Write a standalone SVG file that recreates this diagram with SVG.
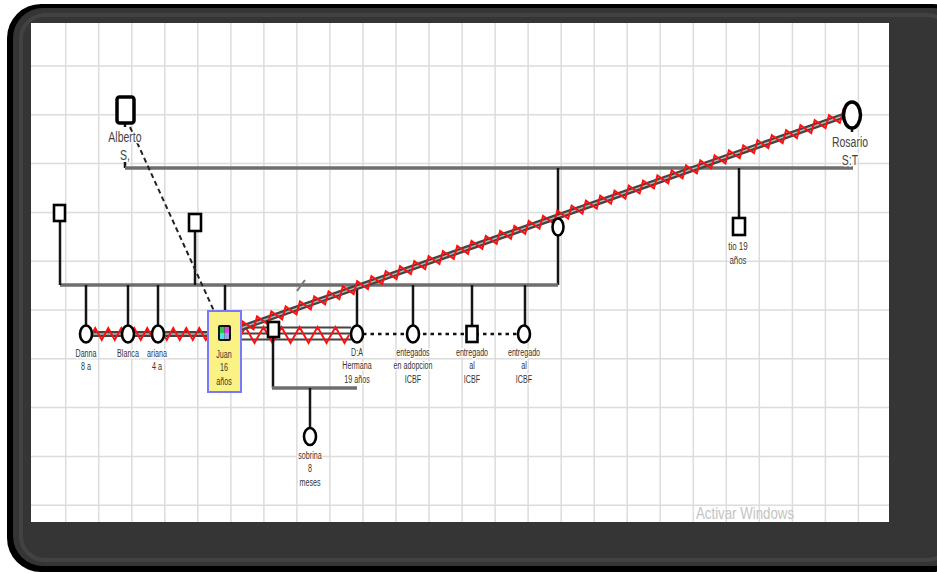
<svg xmlns="http://www.w3.org/2000/svg" width="937" height="573" viewBox="0 0 937 573">
<style>
.grid{stroke:#dcdcdc;stroke-width:1.5;fill:none}
.rel{stroke:#6e6e6e;stroke-width:3.5;fill:none}
.drop{stroke:#151515;stroke-width:2.5;fill:none}
.node{fill:#fff;stroke:#000;stroke-width:2.6}
.lbl{font-family:"Liberation Sans",Arial,sans-serif;font-size:11px;fill:#333;text-anchor:middle;paint-order:stroke;stroke:#fff;stroke-width:3px;stroke-linejoin:round}
.big{font-size:15px;fill:#444}
.plain{stroke:none}
.band{stroke:#444;stroke-width:6;fill:none}
.bandc{stroke:#b8b8b8;stroke-width:1.4;fill:none}
.thin{stroke:#444;stroke-width:2;fill:none}
.zz{stroke:#ff1010;stroke-width:2;fill:none;stroke-linejoin:miter}
</style>

<!-- frame -->
<rect x="0" y="0" width="937" height="573" fill="#fff"/>
<rect x="7" y="4" width="960" height="568" rx="34" fill="#000"/>
<rect x="13" y="8" width="950" height="558" rx="30" fill="#353535"/>
<rect x="21" y="15" width="930" height="545" rx="24" fill="none" stroke="#424242" stroke-width="4"/>
<rect x="31" y="23" width="858" height="499" fill="#fff"/>

<!-- grid -->
<path class="grid" d="M65.7,23V522M98.7,23V522M131.8,23V522M164.8,23V522M197.8,23V522M230.9,23V522M263.9,23V522M296.9,23V522M329.9,23V522M363,23V522M396,23V522M429,23V522M462.1,23V522M495.1,23V522M528.1,23V522M561.2,23V522M594.2,23V522M627.2,23V522M660.2,23V522M693.3,23V522M726.3,23V522M759.3,23V522M792.4,23V522M825.4,23V522M858.4,23V522"/>
<path class="grid" stroke-width="2" d="M31,66H889M31,114.8H889M31,163.6H889M31,212.4H889M31,261.2H889M31,310H889M31,358.8H889M31,407.6H889M31,456.4H889M31,505.2H889"/>

<text font-family="'Liberation Sans',Arial,sans-serif" font-size="16" fill="#c4c4c4" text-anchor="middle" transform="translate(745,519) scale(0.83,1)">Activar Windows</text>

<!-- connectors -->
<g id="connectors">
  <path class="drop" d="M125,162V168"/>
  <path class="rel" stroke-width="4" d="M125,168H853"/>
  <path class="drop" d="M558,168V218M558,236V285M739,168V218"/>
  <path class="rel" d="M60,285H558"/>
  <path d="M297,291L305,280" stroke="#777" stroke-width="2"/>
  <path class="drop" d="M60,221V285M195,231V285M86,285V325.5M128,285V325.5M158,285V325.5M225,285V311M357,285V325.5M413,285V325.5M472,285V326M525,285V325.5"/>
  <path d="M130,127L214,311" stroke="#222" stroke-width="2" stroke-dasharray="5 3.5" fill="none"/>
  <!-- sibling hostile -->
  <path class="band" d="M92,334H208"/>
  <path class="bandc" d="M92,334H208"/>
  <path class="zz" d="M92,334l3.25,-6 6.5,12 6.5,-12 6.5,12 6.5,-12 6.5,12 6.5,-12 6.5,12 6.5,-12 6.5,12 6.5,-12 6.5,12 6.5,-12 6.5,12 6.5,-12 6.5,12 6.5,-12 6.5,12 2.25,-4"/>
  <!-- Juan - D:A -->
  <path class="thin" d="M241,327.5H351M241,333.5H351M241,339.5H351"/>
  <path class="zz" d="M241,335l4.5,-8 9,16 9,-16 9,16 9,-16 9,16 9,-16 9,16 9,-16 9,16 9,-16 9,16 4.5,-8"/>
  <!-- Juan - Rosario -->
  <path class="band" d="M241,328L843,116"/>
  <path class="bandc" d="M241,328L843,116"/>
  <path class="zz" transform="translate(241,328) rotate(-19.4)" d="M0,0l3.79,-5.5 7.58,11 7.58,-11 7.58,11 7.58,-11 7.58,11 7.58,-11 7.58,11 7.58,-11 7.58,11 7.58,-11 7.58,11 7.58,-11 7.58,11 7.58,-11 7.58,11 7.58,-11 7.58,11 7.58,-11 7.58,11 7.58,-11 7.58,11 7.58,-11 7.58,11 7.58,-11 7.58,11 7.58,-11 7.58,11 7.58,-11 7.58,11 7.58,-11 7.58,11 7.58,-11 7.58,11 7.58,-11 7.58,11 7.58,-11 7.58,11 7.58,-11 7.58,11 7.58,-11 7.58,11 7.58,-11 7.58,11 7.58,-11 7.58,11 7.58,-11 7.58,11 7.58,-11 7.58,11 7.58,-11 7.58,11 7.58,-11 7.58,11 7.58,-11 7.58,11 7.58,-11 7.58,11 7.58,-11 7.58,11 7.58,-11 7.58,11 7.58,-11 7.58,11 7.58,-11 7.58,11 7.58,-11 7.58,11 7.58,-11 7.58,11 7.58,-11 7.58,11 7.58,-11 7.58,11 7.58,-11 7.58,11 7.58,-11 7.58,11 7.58,-11 7.58,11 7.58,-11 7.58,11 7.58,-11 7.58,11 7.58,-11 7.58,11 3.79,-5.5"/>
  <!-- dotted siblings -->
  <path d="M363,334H518" stroke="#111" stroke-width="2.5" stroke-dasharray="3.5 4" fill="none"/>
  <!-- sobrina -->
  <path class="drop" stroke-width="2" d="M273,337V388"/>
  <path class="rel" stroke-width="3" d="M272,388H357"/>
  <path class="drop" d="M310,388V428"/>
  <path class="drop" d="M125,123V127M852,128V132"/>
</g>

<!-- nodes -->
<g id="alberto">
  <rect x="117" y="97" width="17" height="26" rx="2.5" fill="#fff" stroke="#000" stroke-width="3.5"/>
  <text class="lbl big" transform="translate(125,142) scale(0.7,1)"><tspan x="0">Alberto</tspan><tspan x="0" dy="18">S,</tspan></text>
</g>
<g id="rosario">
  <ellipse cx="852" cy="115" rx="8.5" ry="13" fill="#fff" stroke="#000" stroke-width="3.5"/>
  <text class="lbl big" transform="translate(850,147) scale(0.7,1)"><tspan x="0">Rosario</tspan><tspan x="0" dy="18">S:T</tspan></text>
</g>
<g id="hija-mid">
  <ellipse class="node" cx="558" cy="227" rx="5.5" ry="8.5"/>
</g>
<g id="tio">
  <rect class="node" x="733" y="218" width="12" height="17"/>
  <text class="lbl" font-size="10" transform="translate(738,250) scale(0.72,1)"><tspan x="0">tio  19</tspan><tspan x="0" dy="14">años</tspan></text>
</g>
<g id="hermano-izq">
  <rect class="node" x="54" y="205" width="11" height="16"/>
</g>
<g id="hermano-2">
  <rect class="node" x="189" y="214" width="12" height="17"/>
</g>
<g id="danna">
  <ellipse class="node" cx="86" cy="334" rx="6" ry="8.5"/>
  <text class="lbl" transform="translate(86,357) scale(0.65,1)"><tspan x="0">Danna</tspan><tspan x="0" dy="13.5">8 a</tspan></text>
</g>
<g id="blanca">
  <ellipse class="node" cx="128" cy="334" rx="6" ry="8.5"/>
  <text class="lbl" transform="translate(128,357) scale(0.65,1)"><tspan x="0">Blanca</tspan></text>
</g>
<g id="ariana">
  <ellipse class="node" cx="158" cy="334" rx="6" ry="8.5"/>
  <text class="lbl" transform="translate(157,357) scale(0.65,1)"><tspan x="0">ariana</tspan><tspan x="0" dy="13.5">4 a</tspan></text>
</g>
<g id="juan">
  <rect x="208" y="311" width="33" height="81" fill="#faf285" stroke="#7878ff" stroke-width="2"/>
  <rect x="218" y="325" width="13" height="16" rx="2" fill="#111"/>
  <rect x="220" y="327" width="4.5" height="6" fill="#22cc44"/>
  <rect x="224.5" y="327" width="4.5" height="6" fill="#dd44dd"/>
  <rect x="220" y="333" width="4.5" height="6" fill="#55e0e0"/>
  <rect x="224.5" y="333" width="4.5" height="6" fill="#a0a0dd"/>
  <text class="lbl plain" transform="translate(224,358) scale(0.65,1)"><tspan x="0">Juan</tspan><tspan x="0" dy="13.5">16</tspan><tspan x="0" dy="13.5">años</tspan></text>
</g>
<g id="pareja-da">
  <rect class="node" x="268" y="322" width="11" height="15" stroke-width="3"/>
</g>
<g id="da">
  <ellipse class="node" cx="357" cy="334" rx="6" ry="8.5"/>
  <text class="lbl" transform="translate(357,356) scale(0.65,1)"><tspan x="0">D:A</tspan><tspan x="0" dy="13.5">Hermana</tspan><tspan x="0" dy="13.5">19 años</tspan></text>
</g>
<g id="entregados">
  <ellipse class="node" cx="413" cy="334" rx="6" ry="8.5"/>
  <text class="lbl" transform="translate(413,356) scale(0.65,1)"><tspan x="0">entegados</tspan><tspan x="0" dy="13.5">en adopcion</tspan><tspan x="0" dy="13.5">ICBF</tspan></text>
</g>
<g id="entregado-1">
  <rect class="node" x="466.5" y="326" width="11" height="16"/>
  <text class="lbl" transform="translate(472,356) scale(0.65,1)"><tspan x="0">entregado</tspan><tspan x="0" dy="13.5">al</tspan><tspan x="0" dy="13.5">ICBF</tspan></text>
</g>
<g id="entregado-2">
  <ellipse class="node" cx="524" cy="334" rx="6" ry="8.5"/>
  <text class="lbl" transform="translate(524,356) scale(0.65,1)"><tspan x="0">entregado</tspan><tspan x="0" dy="13.5">al</tspan><tspan x="0" dy="13.5">ICBF</tspan></text>
</g>
<g id="sobrina">
  <ellipse class="node" cx="310" cy="436.5" rx="6" ry="8.5"/>
  <text class="lbl" transform="translate(310,459) scale(0.65,1)"><tspan x="0">sobrina</tspan><tspan x="0" dy="13.5">8</tspan><tspan x="0" dy="13.5">meses</tspan></text>
</g>
</svg>
